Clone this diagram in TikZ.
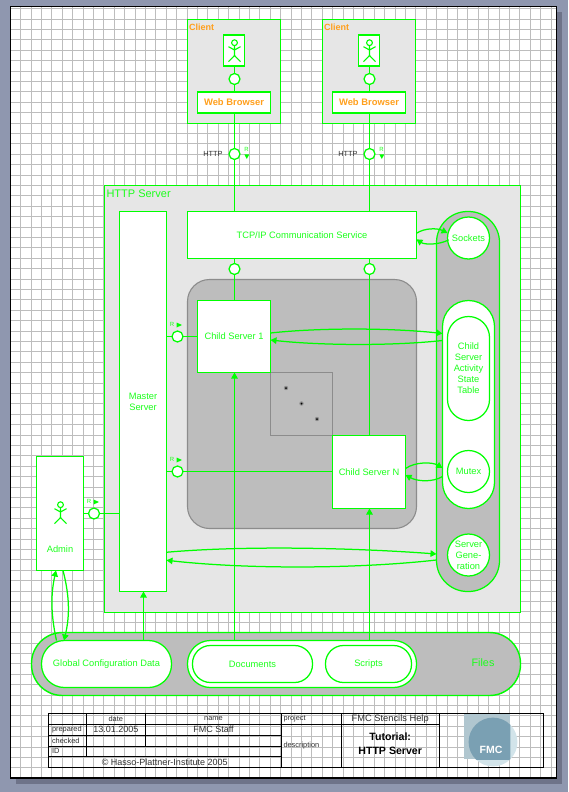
\documentclass[tikz,border=0pt]{standalone}
\usepackage{fontspec}
\setmainfont{Liberation Sans}
\usetikzlibrary{arrows.meta}
\definecolor{G}{HTML}{00FF00}
\definecolor{GT}{HTML}{1CFF1C}
\definecolor{OR}{HTML}{FF9F1C}
\definecolor{BG}{HTML}{8F97AF}
\definecolor{SH}{HTML}{6E7389}
\definecolor{GR}{HTML}{BDBDBD}
\definecolor{LG}{HTML}{E6E6E6}
\definecolor{EDGE}{HTML}{8C8C8C}
\definecolor{TXT}{HTML}{303030}
\definecolor{LOGOA}{HTML}{B0C6CF}
\definecolor{LOGOB}{HTML}{7AA0B3}
\definecolor{LOGOC}{HTML}{D2E4EA}
\newcommand{\fs}[1]{\fontsize{#1}{#1}\selectfont}
\tikzset{
  every node/.style={inner sep=0pt,outer sep=0pt},
  lbl/.style={text=GT,align=center,font=\fs{9.3}\linespread{1}\selectfont},
  lbltall/.style={text=GT,align=center,font=\fs{9.3}\linespread{1.18}\selectfont},
  boxn/.style={draw=G,fill=white,line width=1.25pt,lbl},
  boxt/.style={draw=G,fill=white,line width=1.6pt,text=OR,font=\fs{9.4}\bfseries},
  lightarea/.style={draw=G,fill=LG,line width=1.25pt},
  chan/.style={circle,draw=G,fill=white,line width=1.25pt,minimum size=11pt},
  disc/.style={circle,draw=G,fill=white,line width=1.25pt,minimum size=42pt},
  conn/.style={draw=G,line width=1.25pt},
  arr/.style={draw=G,line width=1.25pt,-{Triangle[length=6pt,width=6.5pt,fill=G]}},
  tiny/.style={text=GT,font=\fs{6}},
  tri/.style={fill=G,draw=none},
  titleline/.style={draw=black,line width=1.1pt},
  tsmall/.style={text=TXT,font=\fs{7.4}},
  tmid/.style={text=TXT,font=\fs{9}},
  actorpic/.pic={
    \draw[G,line width=1.1pt] (0,-7.3) circle (2.9pt);
    \draw[G,line width=1.1pt] (0,-4.4) -- (0,5.5) (-6,-3.3) -- (0,0) -- (6,-3.3) (-6,11.7) -- (0,5.5) -- (6,11.7);
  }
}
\begin{document}
\begin{tikzpicture}[x=1pt,y=-1pt]
\useasboundingbox (0,0) rectangle (568,792);
% page
\fill[BG] (0,0) rectangle (568,792);
\fill[SH] (16,12) rectangle (562,784);
\fill[white] (10.5,6.5) rectangle (556.5,778);
\begin{scope}
  \clip (10.5,6.5) rectangle (556.5,778);
  \foreach \k in {0,...,51} {
    \pgfmathsetmacro{\gx}{floor(20.8+10.4*\k)+0.5}
    \draw[GR,line width=1pt] (\gx,6.5) -- (\gx,778);
  }
  \foreach \k in {0,...,73} {
    \pgfmathsetmacro{\gy}{floor(8.8+10.4*\k)+0.5}
    \draw[GR,line width=1pt] (10.5,\gy) -- (556.5,\gy);
  }
\end{scope}
\draw[black,line width=1.2pt] (10.5,6.5) rectangle (556.5,778);

% areas
\node[lightarea,minimum width=93pt,minimum height=104pt] (client1) at (234,71.5) {};
\node[lightarea,minimum width=93pt,minimum height=104pt] (client2) at (369,71.5) {};
\node[anchor=west,text=OR,font=\fs{9}\bfseries] (client1lab) at (189,27) {Client};
\node[anchor=west,text=OR,font=\fs{9}\bfseries] (client2lab) at (324,27) {Client};
\node[lightarea,minimum width=416pt,minimum height=427pt] (server) at (312.5,399) {};
\node[anchor=west,lbl,font=\fs{11}] (serverlab) at (106.5,194) {HTTP Server};
\node[draw=G,fill=GR,line width=1.4pt,rounded corners=31pt,minimum width=489pt,minimum height=63pt] (files) at (276,664) {};
\node[lbl,font=\fs{10.8}] (fileslab) at (483,663) {Files};
\node[draw=G,fill=GR,line width=1.25pt,rounded corners=31pt,minimum width=63pt,minimum height=380pt] (store) at (468,401.5) {};
\node[draw=EDGE,fill=GR,line width=1.1pt,rounded corners=22pt,minimum width=229pt,minimum height=249pt] (childarea) at (302,404) {};
\node[draw=EDGE,fill=GR,line width=1.1pt,minimum width=62pt,minimum height=63pt] (dots) at (301.5,404) {};
\foreach \n/\x/\y in {s1/286/388,s2/301.5/403.5,s3/317/419}{
  \node[circle,fill=EDGE,minimum size=4.4pt] (\n) at (\x,\y) {};
  \node[circle,fill=black,minimum size=2pt] at (\n) {};
}

% actors
\node[boxt,line width=1.3pt,minimum width=21pt,minimum height=31pt] (user1) at (234,50.5) {};
\node[boxt,line width=1.3pt,minimum width=21pt,minimum height=31pt] (user2) at (369,50.5) {};
\pic at (234.5,50) {actorpic};
\pic at (369.5,50) {actorpic};
\node[boxt,minimum width=73pt,minimum height=21pt] (web1) at (234,102.5) {Web Browser};
\node[boxt,minimum width=73pt,minimum height=21pt] (web2) at (369,102.5) {Web Browser};

% boxes
\node[boxn,minimum width=47pt,minimum height=380pt] (master) at (143,401.5) {Master\\[2pt]Server};
\node[boxn,minimum width=229pt,minimum height=47pt] (tcp) at (302,235) {TCP/IP Communication Service};
\node[boxn,minimum width=73pt,minimum height=72pt] (child1) at (234,336.5) {Child Server 1};
\node[boxn,minimum width=73pt,minimum height=73pt] (childn) at (369,472) {Child Server N};
\node[boxn,minimum width=47pt,minimum height=114pt] (admin) at (60,513.5) {};
\pic at (60.5,512) {actorpic};
\node[lbl] (adminlab) at (60,549) {Admin};

% storages
\node[disc] (sockets) at (468.5,238) {};
\node[lbl] (socketslab) at (sockets) {Sockets};
\node[boxn,rounded corners=26pt,minimum width=52pt,minimum height=208pt] (table) at (468.5,404.5) {};
\node[boxn,rounded corners=21pt,minimum width=42pt,minimum height=104pt] (state) at (468.5,368.5) {};
\node[lbltall] (statelab) at (state) {Child\\Server\\Activity\\State\\Table};
\node[disc] (mutex) at (468.5,471.5) {};
\node[lbl] (mutexlab) at (mutex) {Mutex};
\node[disc] (gen) at (468.5,555) {};
\node[lbltall] (genlab) at (gen) {Server\\Gene-\\ration};
\node[boxn,rounded corners=23pt,minimum width=130pt,minimum height=47pt] (config) at (106.5,664) {Global Configuration Data};
\node[boxn,rounded corners=23pt,minimum width=229pt,minimum height=47pt] (web) at (302,664) {};
\node[boxn,rounded corners=18pt,minimum width=120pt,minimum height=37pt] (docs) at (252.5,664) {Documents};
\node[boxn,rounded corners=18pt,minimum width=86pt,minimum height=37pt] (scripts) at (368.5,664) {Scripts};

% channels
\node[chan] (cu1) at (234.5,79) {};
\node[chan] (cu2) at (369.5,79) {};
\node[chan] (http1) at (234.5,154) {};
\node[chan] (http2) at (369.5,154) {};
\node[chan] (ct1) at (234.5,269) {};
\node[chan] (ct2) at (369.5,269) {};
\node[chan] (r1) at (177.5,336.5) {};
\node[chan] (r2) at (177.5,471.5) {};
\node[chan] (r3) at (94,513.5) {};
\coordinate (masterin) at (143.5,591.5);

% channel labels
\node[text=TXT,font=\fs{7.4}] (httplab1) at (213,154) {HTTP};
\node[text=TXT,font=\fs{7.4}] (httplab2) at (348,154) {HTTP};
\node[tiny] (rl1) at (246.5,149) {R};
\node[tiny] (rl2) at (381.5,149) {R};
\fill[tri] (244.3,154.3) -- (249.3,154.3) -- (246.8,159) -- cycle;
\fill[tri] (379.3,154.3) -- (384.3,154.3) -- (381.8,159) -- cycle;
\node[tiny] (rl3) at (172,324.5) {R};
\fill[tri] (176.5,322.5) -- (182,325) -- (176.5,327.5) -- cycle;
\node[tiny] (rl4) at (172,459.5) {R};
\fill[tri] (176.5,457.5) -- (182,460) -- (176.5,462.5) -- cycle;
\node[tiny] (rl5) at (89,501) {R};
\fill[tri] (93.5,499.5) -- (99,502) -- (93.5,504.5) -- cycle;

% straight connectors
\draw[conn] (cu1.north |- user1.south) -- (cu1.north);
\draw[conn] (cu1.south) -- (cu1.south |- web1.north);
\draw[conn] (cu2.north |- user2.south) -- (cu2.north);
\draw[conn] (cu2.south) -- (cu2.south |- web2.north);
\draw[conn] (http1.north |- web1.south) -- (http1.north);
\draw[conn] (http2.north |- web2.south) -- (http2.north);
\draw[conn] (http1.south) -- (http1.south |- tcp.north);
\draw[conn] (http2.south) -- (http2.south |- tcp.north);
\draw[conn] (ct1.north) -- (ct1.north |- tcp.south);
\draw[conn] (ct2.north) -- (ct2.north |- tcp.south);
\draw[conn] (ct1.south) -- (ct1.south |- child1.north);
\draw[conn] (ct2.south) -- (ct2.south |- childn.north);
\draw[conn] (r1.west) -- (r1.west -| master.east);
\draw[conn] (r1.east) -- (r1.east -| child1.west);
\draw[conn] (r2.west) -- (r2.west -| master.east);
\draw[conn] (r2.east) -- (r2.east -| childn.west);
\draw[conn] (r3.west) -- (r3.west -| admin.east);
\draw[conn] (r3.east) -- (r3.east -| master.west);
\draw[arr] (config.north -| masterin) -- (masterin);
\draw[arr] (web.north -| ct1.south) -- (ct1.south |- child1.south);
\draw[arr] (web.north -| ct2.south) -- (ct2.south |- childn.south);

% curved request/response pairs
\draw[arr] ([yshift=1.7pt]tcp.east) .. controls +(8,-5.5) and +(-10,-5) .. ([xshift=-21pt,yshift=5pt]sockets.center);
\draw[arr] ([xshift=-20pt,yshift=-2pt]sockets.center) .. controls +(-10,5) and +(8,5.5) .. ([yshift=-4.3pt]tcp.east);
\draw[arr] ([yshift=3.5pt]child1.east) .. controls +(50,-5.5) and +(-50,-5.5) .. ([yshift=71pt]table.west);
\draw[arr] ([yshift=64pt]table.west) .. controls +(-50,5.5) and +(50,5.5) .. ([yshift=-3.5pt]child1.east);
\draw[arr] ([yshift=3.5pt]childn.east) .. controls +(10,-7) and +(-10,-6) .. ([yshift=-63.5pt]table.west);
\draw[arr] ([yshift=-72pt]table.west) .. controls +(-10,6) and +(12,6.5) .. ([yshift=-3pt]childn.east);
\draw[arr] ([yshift=-150.75pt]master.east) .. controls +(80,-7) and +(-80,-6) .. ([yshift=-152.5pt]store.west);
\draw[arr] ([yshift=-158.5pt]store.west) .. controls +(-80,9) and +(80,9) .. ([yshift=-158.75pt]master.east);
\draw[arr] ([xshift=-50pt]config.north) .. controls +(-5.5,-25) and +(-5.5,25) .. ([xshift=-4pt]admin.south);
\draw[arr] ([xshift=3pt]admin.south) .. controls +(6.5,25) and +(6,-25) .. ([xshift=-42.5pt]config.north);

% title block
\draw[titleline] (48.5,713.5) rectangle (543.5,767.5);
\draw[titleline] (86.5,713.5) -- (86.5,756.5) (145.5,713.5) -- (145.5,746.5);
\draw[titleline] (48.5,724.5) -- (281.5,724.5) (48.5,735.5) -- (281.5,735.5) (48.5,746.5) -- (281.5,746.5) (48.5,756.5) -- (281.5,756.5);
\draw[titleline] (281.5,713.5) -- (281.5,767.5) (341.5,713.5) -- (341.5,767.5) (439.5,713.5) -- (439.5,767.5);
\draw[titleline] (281.5,724.5) -- (439.5,724.5);
\node[tsmall] (tdate) at (115.8,719) {date};
\node[tsmall] (tname) at (213.5,719) {name};
\node[tsmall,anchor=west] (tproject) at (283.5,719) {project};
\node[tmid,font=\fs{9.3}] (thelp) at (390.2,718.7) {FMC Stencils Help};
\node[tsmall,anchor=west] (tprep) at (52,729.7) {prepared};
\node[tmid] (tdateval) at (115.8,729.5) {13.01.2005};
\node[tmid] (tstaff) at (213.5,729.5) {FMC Staff};
\node[tsmall,anchor=west] (tcheck) at (52,740.5) {checked};
\node[tsmall,anchor=west] (tid) at (52,751) {ID};
\node[tmid] (tcopy) at (164.7,761.8) {© Hasso-Plattner-Institute 2005};
\node[tsmall,anchor=west] (tdesc) at (283.5,745.7) {description};
\node[align=center,font=\fs{10.6}\bfseries\linespread{1.35}\selectfont,text=black] (ttitle) at (390.2,744) {Tutorial:\\HTTP Server};
% logo
\fill[LOGOC] (493,742) circle (24.4pt);
\fill[LOGOA] (464,714) rectangle (510.4,759.4);
\begin{scope}
  \clip (464,714) rectangle (510.4,759.4);
  \fill[LOGOB] (493,742) circle (24.4pt);
\end{scope}
\node[text=white,font=\fs{10.5}\bfseries] (fmc) at (491,750) {FMC};
\draw[titleline] (439.5,713.5) -- (543.5,713.5);
\end{tikzpicture}
\end{document}
